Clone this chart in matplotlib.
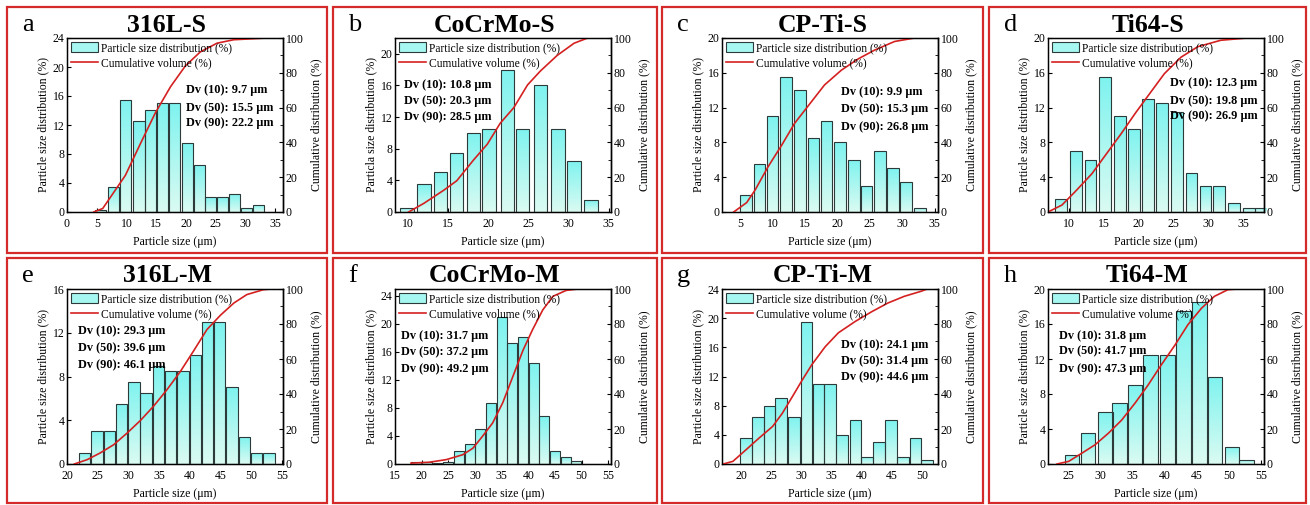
import numpy as np
import matplotlib
matplotlib.use("Agg")
import matplotlib.pyplot as plt
from matplotlib.colors import LinearSegmentedColormap
from matplotlib.patches import Rectangle
from matplotlib.lines import Line2D

plt.rcParams['font.family'] = ['Liberation Serif', 'DejaVu Serif']

# ---- data ----
# a: 316L-S
a_size = [5.6, 7.85, 9.9, 12.1, 14.05, 16.0, 18.1, 20.2, 22.2, 24.1, 26.1, 28.1, 30.1, 32.2]
a_freq = [0.3, 3.5, 15.5, 12.5, 14.0, 15.0, 15.0, 9.5, 6.5, 2.0, 2.0, 2.5, 0.5, 1.0]
a_cum_x = [4.5, 6.0, 8.0, 9.8, 12.3, 14.85, 17.4, 19.9, 22.4, 25.2, 28.0, 33.6]
a_cum_y = [0, 2, 12, 21, 39, 57, 72, 84, 92, 97, 99, 100]
a_dv = ["9.7", "15.5", "22.2"]

# b: CoCrMo-S
b_size = [9.9, 12.0, 14.1, 16.1, 18.2, 20.1, 22.4, 24.3, 26.5, 28.7, 30.7, 32.8]
b_freq = [0.5, 3.5, 5.0, 7.5, 10.0, 10.5, 18.0, 10.5, 16.0, 10.5, 6.5, 1.5]
b_cum_x = [10.1, 12.0, 14.5, 16.1, 18.2, 19.9, 21.5, 23.2, 24.9, 26.5, 28.6, 30.7, 32.4, 33.6]
b_cum_y = [0, 5, 12.6, 18, 30, 39, 51, 60, 73, 81, 90, 97, 100, 100]
b_dv = ["10.8", "20.3", "28.5"]

# c: CP-Ti-S
c_size = [5.9, 8.0, 10.0, 12.1, 14.2, 16.3, 18.3, 20.4, 22.5, 24.5, 26.6, 28.6, 30.6, 32.7]
c_freq = [2.0, 5.5, 11.0, 15.5, 14.0, 8.5, 10.5, 8.0, 6.0, 3.0, 7.0, 5.0, 3.5, 0.5]
c_cum_x = [4.0, 6.0, 7.3, 9.3, 11.4, 13.4, 15.7, 18.0, 20.6, 23.2, 25.7, 28.8, 31.9, 33.0]
c_cum_y = [0, 5.4, 12.6, 26, 38.4, 51, 62, 73, 81.5, 88, 93, 98, 100, 100]
c_dv = ["9.9", "15.3", "26.8"]

# d: Ti64-S
d_size = [8.9, 11.0, 13.1, 15.2, 17.3, 19.4, 21.4, 23.4, 25.5, 27.6, 29.6, 31.6, 33.7, 35.8, 37.6]
d_freq = [1.5, 7.0, 6.0, 15.5, 11.0, 9.5, 13.0, 12.5, 11.5, 4.5, 3.0, 3.0, 1.0, 0.5, 0.5]
d_cum_x = [7.0, 9.0, 10.9, 13.3, 15.6, 17.5, 19.5, 21.4, 23.7, 26.1, 28.5, 31.8, 35.6, 37.9]
d_cum_y = [0, 4, 11.7, 22, 34.6, 45, 56.6, 67, 79.5, 89, 95, 98.7, 100, 100]
d_dv = ["12.3", "19.8", "26.9"]

# e: 316L-M
e_size = [22.9, 24.9, 26.9, 28.9, 30.9, 32.9, 34.9, 36.9, 38.9, 40.9, 42.9, 44.9, 46.9, 48.9, 50.9, 52.9]
e_freq = [1.0, 3.0, 3.0, 5.5, 7.5, 6.5, 9.0, 8.5, 8.5, 10.0, 13.0, 13.0, 7.0, 2.5, 1.0, 1.0]
e_cum_x = [21.2, 23.3, 25.4, 27.6, 29.8, 32.0, 34.1, 36.3, 38.5, 40.7, 42.8, 45.0, 47.2, 49.3, 52.0, 53.2]
e_cum_y = [0, 2.5, 6.3, 11, 17.7, 25, 33, 42.5, 53, 65, 76.8, 85, 92, 96.8, 99.6, 100]
e_dv = ["29.3", "39.6", "46.1"]

# f: CoCrMo-M
f_size = [19, 21, 23, 25, 27, 29, 31, 33, 35, 37, 39, 41, 43, 45, 47, 49]
f_freq = [0.3, 0.3, 0.2, 0.3, 1.8, 2.8, 5.0, 8.7, 21.0, 17.3, 18.2, 14.5, 6.8, 1.8, 1.0, 0.5]
f_cum_x = [18.0, 21.4, 24.6, 27.7, 29.6, 31.4, 33.3, 35.2, 37.1, 39.0, 40.8, 42.7, 44.6, 47.1, 49.3]
f_cum_y = [0.5, 1, 2.5, 5.3, 9, 15.8, 23.4, 35, 50, 65, 76.8, 88, 95.8, 99.2, 100]
f_dv = ["31.7", "37.2", "49.2"]

# g: CP-Ti-M
g_size = [20.8, 22.8, 24.7, 26.6, 28.7, 30.8, 32.8, 34.7, 36.7, 38.9, 40.8, 42.8, 44.8, 46.8, 48.9, 50.8]
g_freq = [3.5, 6.5, 8.0, 9.0, 6.5, 19.5, 11.0, 11.0, 4.0, 6.0, 1.0, 3.0, 6.0, 1.0, 3.5, 0.5]
g_cum_x = [17.0, 18.6, 20.8, 23.0, 25.2, 26.8, 28.5, 30.1, 31.7, 33.9, 36.1, 38.9, 41.6, 44.3, 47.0, 49.8, 50.8]
g_cum_y = [0, 1.5, 8.2, 15, 21.5, 29, 38.7, 48, 56.8, 67, 75, 81.5, 87, 92, 95.8, 98.7, 100]
g_dv = ["24.1", "31.4", "44.6"]

# h: Ti64-M
h_size = [25.6, 28.1, 30.8, 33.0, 35.4, 37.8, 40.4, 42.9, 45.4, 47.8, 50.4, 52.7]
h_freq = [1.0, 3.5, 6.0, 7.0, 9.0, 12.5, 12.5, 17.5, 18.5, 10.0, 2.0, 0.5]
h_cum_x = [23.3, 25.1, 27.2, 29.2, 31.3, 33.3, 35.4, 37.4, 39.5, 41.6, 43.6, 45.7, 47.7, 49.8, 51.3, 52.9]
h_cum_y = [0, 1.5, 6.3, 11, 17.7, 25, 34.8, 45, 56.8, 68, 79.6, 89, 95.8, 99.6, 100, 100]
h_dv = ["31.8", "41.7", "47.3"]

titles = ["316L-S", "CoCrMo-S", "CP-Ti-S", "Ti64-S", "316L-M", "CoCrMo-M", "CP-Ti-M", "Ti64-M"]
letters = ["a", "b", "c", "d", "e", "f", "g", "h"]
left_labels = ["Particle size distribution (%)", "Particla size distribution (%)"] + \
              ["Particle size distribution (%)"] * 6

panels = [
    dict(size=a_size, freq=a_freq, cx=a_cum_x, cy=a_cum_y, dv=a_dv, bw=1.85,
         xlim=(0, 36.3), xt=range(0, 36, 5), ylim=(0, 24), yt=range(0, 25, 4), txt=(0.55, [0.70, 0.60, 0.51])),
    dict(size=b_size, freq=b_freq, cx=b_cum_x, cy=b_cum_y, dv=b_dv, bw=1.65,
         xlim=(8.4, 35.3), xt=range(10, 36, 5), ylim=(0, 22), yt=range(0, 21, 4), txt=(0.04, [0.73, 0.64, 0.546])),
    dict(size=c_size, freq=c_freq, cx=c_cum_x, cy=c_cum_y, dv=c_dv, bw=1.8,
         xlim=(2.2, 35.5), xt=range(5, 36, 5), ylim=(0, 20), yt=range(0, 21, 4), txt=(0.55, [0.69, 0.59, 0.49])),
    dict(size=d_size, freq=d_freq, cx=d_cum_x, cy=d_cum_y, dv=d_dv, bw=1.7,
         xlim=(7.0, 38.0), xt=range(10, 36, 5), ylim=(0, 20), yt=range(0, 21, 4), txt=(0.565, [0.74, 0.64, 0.55])),
    dict(size=e_size, freq=e_freq, cx=e_cum_x, cy=e_cum_y, dv=e_dv, bw=1.85,
         xlim=(20, 55.2), xt=range(20, 56, 5), ylim=(0, 16), yt=range(0, 17, 4), txt=(0.05, [0.758, 0.663, 0.568])),
    dict(size=f_size, freq=f_freq, cx=f_cum_x, cy=f_cum_y, dv=f_dv, bw=1.9,
         xlim=(15, 55.5), xt=range(15, 56, 5), ylim=(0, 25), yt=range(0, 25, 4), txt=(0.03, [0.73, 0.64, 0.545])),
    dict(size=g_size, freq=g_freq, cx=g_cum_x, cy=g_cum_y, dv=g_dv, bw=1.9,
         xlim=(16.8, 52.6), xt=range(20, 51, 5), ylim=(0, 24), yt=range(0, 25, 4), txt=(0.55, [0.68, 0.59, 0.495])),
    dict(size=h_size, freq=h_freq, cx=h_cum_x, cy=h_cum_y, dv=h_dv, bw=2.25,
         xlim=(21.9, 55.4), xt=range(25, 56, 5), ylim=(0, 20), yt=range(0, 21, 4), txt=(0.05, [0.733, 0.644, 0.545])),
]

W, H = 1310, 505
fig = plt.figure(figsize=(W / 100, H / 100), dpi=100)

# panel boxes and axes positions in pixels
box_cols = [(7, 327), (333, 657), (662, 983), (989, 1306)]
box_rows = [(7, 253), (258, 503)]
ax_cols = [67, 395, 722, 1048]
ax_rows = [(38, 212), (289, 464)]
ax_w = 216

red = '#d42a2a'
curve_red = '#d42020'
fs = 8.5
grad = LinearSegmentedColormap.from_list('bar', ['#dafbf2', '#7ff3ef'])
grad_img = np.linspace(0, 1, 64).reshape(-1, 1)

for i, p in enumerate(panels):
    r, c = divmod(i, 4)
    bx0, bx1 = box_cols[c]
    by0, by1 = box_rows[r]
    fig.patches.append(Rectangle((bx0 / W, 1 - by1 / H), (bx1 - bx0) / W, (by1 - by0) / H,
                                 transform=fig.transFigure, fill=False, edgecolor=red, lw=1.6))
    top, bot = ax_rows[r]
    ax = fig.add_axes([ax_cols[c] / W, 1 - bot / H, ax_w / W, (bot - top) / H])

    bars = ax.bar(p['size'], p['freq'], width=p['bw'], facecolor='none',
                  edgecolor='#2c3b3a', lw=0.8, zorder=3)
    for b in bars:
        x0, y0 = b.get_x(), b.get_y()
        im = ax.imshow(grad_img, cmap=grad, origin='lower', aspect='auto',
                       extent=[x0, x0 + b.get_width(), y0, y0 + b.get_height()], zorder=2)
        im.set_clip_path(b)

    ax.set_xlim(*p['xlim'])
    ax.set_ylim(*p['ylim'])
    ax.set_xticks(list(p['xt']))
    ax.set_yticks(list(p['yt']))
    ax.tick_params(direction='in', length=3, width=0.8, labelsize=fs, pad=2)
    ax.tick_params(axis='x', pad=4.5)
    ax.set_xlabel('Particle size (μm)', fontsize=fs, labelpad=4)
    ax.set_ylabel(left_labels[i], fontsize=fs, labelpad=2)
    for s in ax.spines.values():
        s.set_linewidth(1.0)

    ax2 = ax.twinx()
    ax2.plot(p['cx'], p['cy'], color=curve_red, lw=1.2)
    ax2.set_ylim(0, 100)
    ax2.set_yticks(range(0, 101, 20))
    ax2.set_yticks(range(10, 100, 20), minor=True)
    ax2.tick_params(direction='in', length=3, width=0.8, labelsize=fs, pad=2)
    ax2.tick_params(which='minor', direction='in', length=2, width=0.6)
    ax2.set_ylabel('Cumulative distribution (%)', fontsize=fs, labelpad=5)
    ax2.spines['right'].set_linewidth(1.0)

    handles = [Rectangle((0, 0), 1, 1, facecolor='#a6f6f1', edgecolor='#2c3b3a', lw=0.8),
               Line2D([], [], color=curve_red, lw=1.2)]
    ax2.legend(handles, ['Particle size distribution (%)', 'Cumulative volume (%)'],
               loc='upper left', frameon=False, fontsize=8.3, handlelength=2.3,
               handleheight=0.9, handletextpad=0.3, labelspacing=0.25,
               borderaxespad=0.15, borderpad=0.2)

    tx, tys = p['txt']
    for k, (lab, ty) in enumerate(zip(['10', '50', '90'], tys)):
        ax2.text(tx, ty, 'Dv (%s): %s μm' % (lab, p['dv'][k]), transform=ax.transAxes,
                 fontsize=8.8, fontweight='bold', va='center', ha='left')

    # title and panel letter
    ty_px = by0 + 18
    fig.text((bx0 + bx1) / 2 / W, 1 - ty_px / H, titles[i], fontsize=18.5, fontweight='bold',
             ha='center', va='center')
    fig.text((bx0 + 15) / W, 1 - ty_px / H, letters[i], fontsize=19, ha='left', va='center')

fig.savefig('out.png', dpi=100)
